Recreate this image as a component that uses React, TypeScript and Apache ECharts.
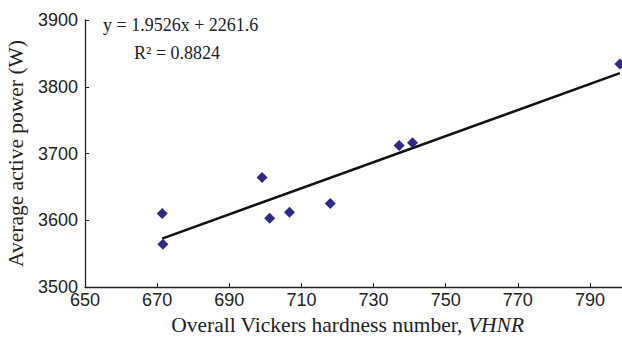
import React, { useEffect, useRef } from "react";
import * as echarts from "echarts";

const hardness = [671.4, 671.6, 699.1, 701.2, 706.7, 718.0, 737.1, 740.8, 798.3];
const power = [3610, 3564, 3664, 3603, 3612, 3625, 3712, 3716, 3834];
const slope = 1.9526;
const intercept = 2261.6;
const equationText = "y = 1.9526x + 2261.6";
const r2Text = "R² = 0.8824";

export default function App() {
  const ref = useRef<HTMLDivElement>(null);
  useEffect(() => {
    if (!ref.current) return;
    const chart = echarts.init(ref.current, undefined, { renderer: "svg" });
    const pts = hardness.map((x, i) => [x, power[i]]);
    const xMin = Math.min(...hardness);
    const xMax = Math.max(...hardness);
    const trend = [
      [xMin, slope * xMin + intercept],
      [xMax, slope * xMax + intercept],
    ];
    chart.setOption({
      animation: false,
      backgroundColor: "#fff",
      grid: { left: 85, right: -4, top: 20, bottom: 54, outerBoundsMode: "none", containLabel: false },
      xAxis: {
        type: "value",
        min: 650,
        max: 800,
        interval: 20,
        name: "Overall Vickers hardness number, {i|VHNR}",
        nameLocation: "middle",
        nameGap: 27,
        nameTextStyle: {
          fontFamily: "Liberation Serif",
          fontSize: 21.5,
          color: "#222",
          padding: [0, 16, 0, 0],
          rich: {
            i: { fontFamily: "Liberation Serif", fontSize: 21.5, fontStyle: "italic", color: "#222" },
          },
        },
        axisLine: { lineStyle: { color: "#222", width: 1.3 } },
        axisTick: { inside: true, length: 4, lineStyle: { color: "#222" } },
        axisLabel: {
          fontFamily: "Liberation Sans",
          fontSize: 18,
          color: "#222",
          margin: 4,
          showMaxLabel: false,
          formatter: (v: number) => String(v),
        },
        splitLine: { show: false },
      },
      yAxis: {
        type: "value",
        min: 3500,
        max: 3900,
        interval: 100,
        name: "Average active power (W)",
        nameLocation: "middle",
        nameGap: 57,
        nameTextStyle: { fontFamily: "Liberation Serif", fontSize: 21.5, color: "#222" },
        axisLine: { show: true, lineStyle: { color: "#222", width: 1.3 } },
        axisTick: { show: true, inside: true, length: 4, lineStyle: { color: "#222" } },
        axisLabel: {
          fontFamily: "Liberation Sans",
          fontSize: 18,
          color: "#222",
          margin: 7,
          formatter: (v: number) => String(v),
        },
        splitLine: { show: false },
      },
      series: [
        {
          type: "line",
          data: trend,
          symbol: "none",
          lineStyle: { color: "#111", width: 2.5 },
          z: 2,
        },
        {
          type: "scatter",
          data: pts,
          symbol: "diamond",
          symbolSize: 11,
          itemStyle: { color: "#2f2a8a", opacity: 1 },
          z: 3,
        },
      ],
      graphic: [
        {
          type: "text",
          left: 103,
          top: 16,
          style: { text: equationText, fontFamily: "Liberation Serif", fontSize: 18, fill: "#222" },
        },
        {
          type: "text",
          left: 134,
          top: 44,
          style: { text: r2Text, fontFamily: "Liberation Serif", fontSize: 18, fill: "#222" },
        },
      ],
    });
    return () => chart.dispose();
  }, []);
  return <div ref={ref} style={{ width: 622, height: 341, position: "absolute", left: 0, top: 0 }} />;
}
